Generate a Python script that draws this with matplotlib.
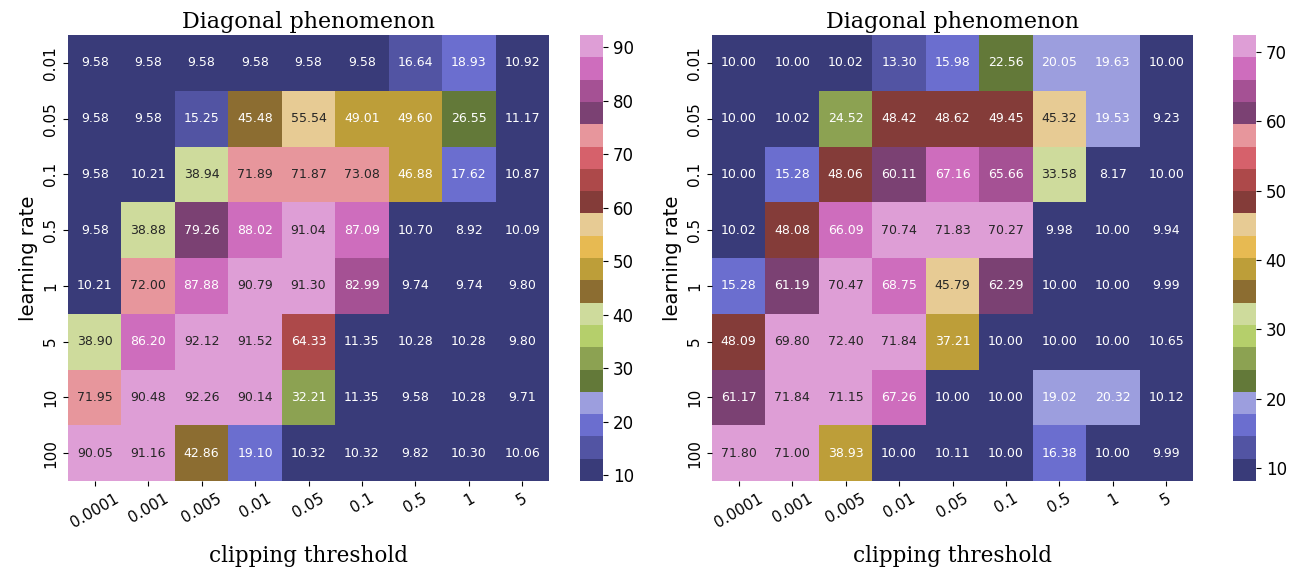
import matplotlib
matplotlib.use("Agg")
import matplotlib.pyplot as plt
import numpy as np
import seaborn as sns

# Grid axes
learning_rates = ["0.01", "0.05", "0.1", "0.5", "1", "5", "10", "100"]
clip_thresholds = ["0.0001", "0.001", "0.005", "0.01", "0.05", "0.1", "0.5", "1", "5"]

# Accuracy (%) for each (learning rate, clipping threshold) pair
acc_left = [
    [9.58, 9.58, 9.58, 9.58, 9.58, 9.58, 16.64, 18.93, 10.92],
    [9.58, 9.58, 15.25, 45.48, 55.54, 49.01, 49.60, 26.55, 11.17],
    [9.58, 10.21, 38.94, 71.89, 71.87, 73.08, 46.88, 17.62, 10.87],
    [9.58, 38.88, 79.26, 88.02, 91.04, 87.09, 10.70, 8.92, 10.09],
    [10.21, 72.00, 87.88, 90.79, 91.30, 82.99, 9.74, 9.74, 9.80],
    [38.90, 86.20, 92.12, 91.52, 64.33, 11.35, 10.28, 10.28, 9.80],
    [71.95, 90.48, 92.26, 90.14, 32.21, 11.35, 9.58, 10.28, 9.71],
    [90.05, 91.16, 42.86, 19.10, 10.32, 10.32, 9.82, 10.30, 10.06],
]
acc_right = [
    [10.00, 10.00, 10.02, 13.30, 15.98, 22.56, 20.05, 19.63, 10.00],
    [10.00, 10.02, 24.52, 48.42, 48.62, 49.45, 45.32, 19.53, 9.23],
    [10.00, 15.28, 48.06, 60.11, 67.16, 65.66, 33.58, 8.17, 10.00],
    [10.02, 48.08, 66.09, 70.74, 71.83, 70.27, 9.98, 10.00, 9.94],
    [15.28, 61.19, 70.47, 68.75, 45.79, 62.29, 10.00, 10.00, 9.99],
    [48.09, 69.80, 72.40, 71.84, 37.21, 10.00, 10.00, 10.00, 10.65],
    [61.17, 71.84, 71.15, 67.26, 10.00, 10.00, 19.02, 20.32, 10.12],
    [71.80, 71.00, 38.93, 10.00, 10.11, 10.00, 16.38, 10.00, 9.99],
]

fig = plt.figure(figsize=(12.97, 5.69), dpi=100)
W, H = 1297, 569


def box(x0, y0, x1, y1):
    # pixel box -> figure fraction [left, bottom, width, height]
    return [x0 / W, 1 - y1 / H, (x1 - x0) / W, (y1 - y0) / H]


panels = [
    (acc_left, box(68, 35, 549, 481), box(580, 35, 603, 481)),
    (acc_right, box(712, 35, 1193, 481), box(1233, 35, 1256, 481)),
]

for data, ax_box, cb_box in panels:
    ax = fig.add_axes(ax_box)
    cax = fig.add_axes(cb_box)
    sns.heatmap(np.array(data), ax=ax, cbar_ax=cax, cmap="tab20b",
                annot=True, fmt=".2f", annot_kws={"fontsize": 9},
                xticklabels=clip_thresholds, yticklabels=learning_rates)
    ax.set_title("Diagonal phenomenon", pad=5, family="DejaVu Serif", fontsize=16)
    ax.set_xlabel("clipping threshold", labelpad=11, family="DejaVu Serif", fontsize=15.5)
    ax.set_ylabel("learning rate", fontsize=14)
    ax.tick_params(axis="both", labelsize=11)
    plt.setp(ax.get_xticklabels(), rotation=30)
    plt.setp(ax.get_yticklabels(), rotation=90, va="center")
    cax.tick_params(labelsize=12)

fig.savefig("out.png", dpi=100)
